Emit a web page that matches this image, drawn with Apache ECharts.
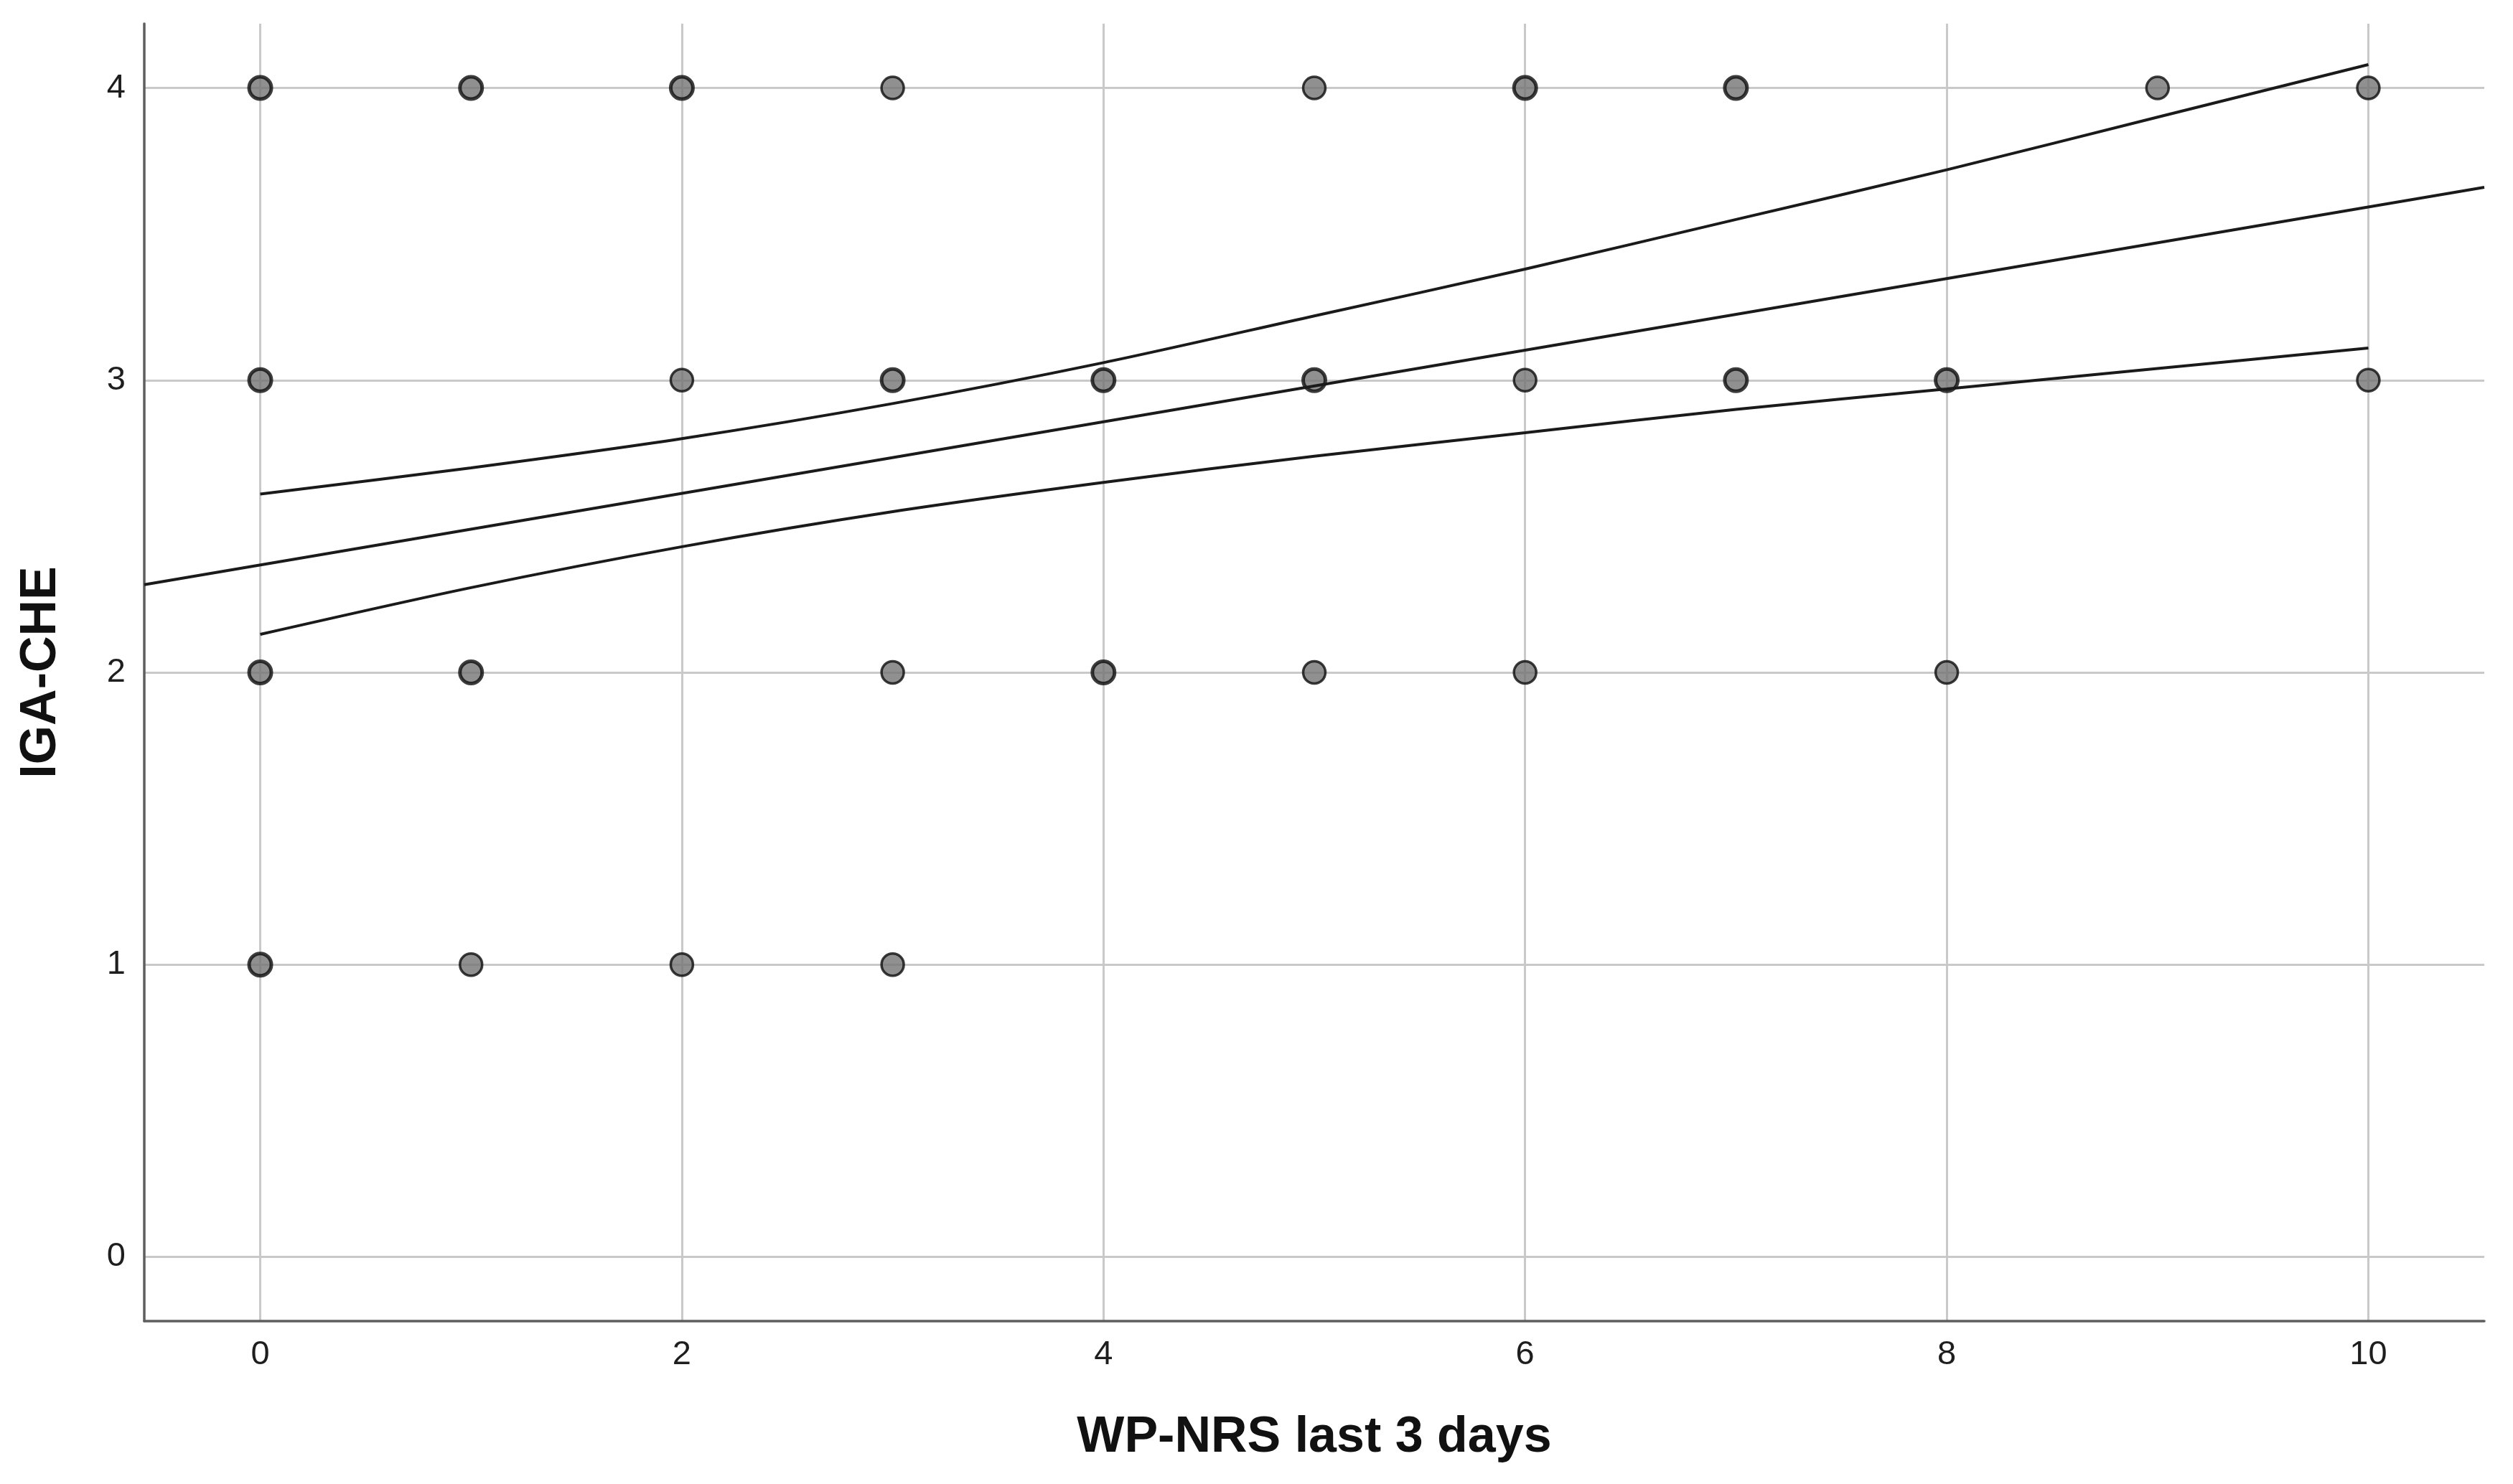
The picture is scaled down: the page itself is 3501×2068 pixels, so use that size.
<!DOCTYPE html>
<html>
<head>
<meta charset="utf-8">
<script src="https://cdn.jsdelivr.net/npm/echarts@6/dist/echarts.min.js"></script>
<style>
html,body{margin:0;padding:0;background:#ffffff;}
#chart{width:3501px;height:2068px;}
</style>
</head>
<body>
<div id="chart"></div>
<script>
// ---- data ----
const xTickValues = [0, 2, 4, 6, 8, 10];
const yTickValues = [0, 1, 2, 3, 4];
const xTitle = 'WP-NRS last 3 days';
const yTitle = 'IGA-CHE';

// observed points (x, y) and estimated number of overlapping cases at each
const pointX = [0, 1, 2, 3, 5, 6, 7, 9, 10,
                0, 2, 3, 4, 5, 6, 7, 8, 10,
                0, 1, 3, 4, 5, 6, 8,
                0, 1, 2, 3];
const pointY = [4, 4, 4, 4, 4, 4, 4, 4, 4,
                3, 3, 3, 3, 3, 3, 3, 3, 3,
                2, 2, 2, 2, 2, 2, 2,
                1, 1, 1, 1];
const pointN = [2, 2, 2, 1, 1, 2, 2, 1, 1,
                2, 1, 2, 2, 2, 1, 2, 2, 1,
                2, 2, 1, 2, 1, 1, 1,
                2, 1, 1, 1];

// linear fit line (spans the whole x range)
const fitX = [-0.55, 10.55];
const fitY = [2.30, 3.66];

// 95% confidence band of the mean, read at each integer x
const ciX     = [0, 1, 2, 3, 4, 5, 6, 7, 8, 9, 10];
const ciUpper = [2.61, 2.70, 2.80, 2.92, 3.06, 3.22, 3.38, 3.55, 3.72, 3.90, 4.08];
const ciLower = [2.13, 2.29, 2.43, 2.55, 2.65, 2.74, 2.82, 2.90, 2.97, 3.04, 3.11];

// ---- chart ----
const chart = echarts.init(document.getElementById('chart'), null, {renderer: 'canvas'});

const scatterData = pointX.map((x, i) => ({
  value: [x, pointY[i]],
  itemStyle: { borderWidth: pointN[i] > 1 ? 5 : 3.5 }
}));
const fitData = fitX.map((x, i) => [x, fitY[i]]);
const upperData = ciX.map((x, i) => [x, ciUpper[i]]);
const lowerData = ciX.map((x, i) => [x, ciLower[i]]);

const FONT = '"Liberation Sans", Arial, sans-serif';
const lineStyle = { color: '#1a1a1a', width: 4 };

chart.setOption({
  animation: false,
  backgroundColor: '#ffffff',
  grid: { left: 201, right: 40, top: 33, bottom: 227, containLabel: false },
  xAxis: {
    type: 'value',
    min: -0.55,
    max: 10.55,
    name: xTitle,
    nameLocation: 'middle',
    nameGap: 128,
    nameTextStyle: { fontFamily: FONT, fontWeight: 'bold', fontSize: 70, color: '#111111' },
    axisLine: { show: true, onZero: false, lineStyle: { color: '#5e5e5e', width: 3.5 } },
    axisTick: { show: false, customValues: xTickValues },
    axisLabel: { customValues: xTickValues, fontFamily: FONT, fontSize: 47, color: '#1e1e1e', margin: 24 },
    splitLine: { show: true, lineStyle: { color: '#c9c9c9', width: 3 } }
  },
  yAxis: {
    type: 'value',
    min: -0.22,
    max: 4.22,
    name: yTitle,
    nameLocation: 'middle',
    nameRotate: 90,
    nameGap: 108,
    nameTextStyle: { fontFamily: FONT, fontWeight: 'bold', fontSize: 70, color: '#111111' },
    axisLine: { show: true, onZero: false, lineStyle: { color: '#5e5e5e', width: 3.5 } },
    axisTick: { show: false, customValues: yTickValues },
    axisLabel: { customValues: yTickValues, fontFamily: FONT, fontSize: 47, color: '#1e1e1e', margin: 26 },
    splitLine: { show: true, lineStyle: { color: '#c9c9c9', width: 3 } }
  },
  series: [
    {
      type: 'scatter',
      data: scatterData,
      symbol: 'circle',
      symbolSize: 31,
      itemStyle: { color: '#747474', borderColor: '#0d0d0d', borderWidth: 3.5 },
      z: 2
    },
    { type: 'line', data: fitData, symbol: 'none', lineStyle: lineStyle, z: 3 },
    { type: 'line', data: upperData, symbol: 'none', smooth: 0.3, lineStyle: lineStyle, z: 3 },
    { type: 'line', data: lowerData, symbol: 'none', smooth: 0.3, lineStyle: lineStyle, z: 3 }
  ]
});
</script>
</body>
</html>
